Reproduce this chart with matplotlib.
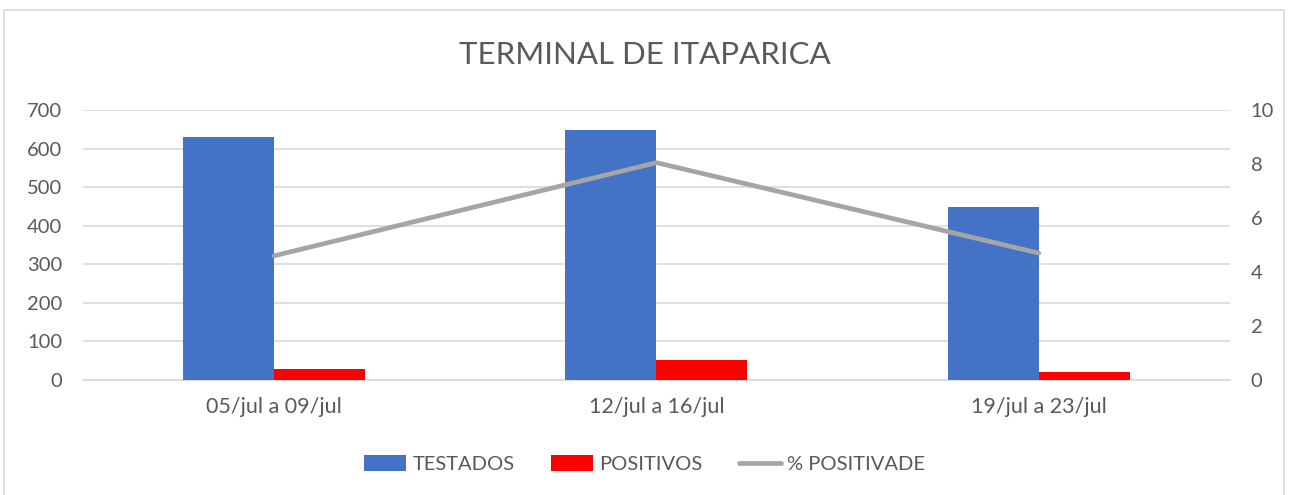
import numpy as np
import matplotlib.pyplot as plt
from matplotlib.patches import Rectangle

# data
semanas = ["05/jul a 09/jul", "12/jul a 16/jul", "19/jul a 23/jul"]
testados = [630, 648, 448]
positivos = [29, 52, 21]
positividade = [4.6, 8.05, 4.7]

cor_texto = "#595959"
cor_grade = "#d9d9d9"

plt.rcParams['font.family'] = ['Lato', 'DejaVu Sans']

fig = plt.figure(figsize=(12.89, 4.95), dpi=100)
ax = fig.add_axes([0.0644, 0.2323, 0.8898, 0.5455])
ax2 = ax.twinx()

x = np.arange(len(semanas))
w = 0.238
ax.bar(x - w / 2, testados, w, color="#4472c4", label="TESTADOS", zorder=3)
ax.bar(x + w / 2, positivos, w, color="#ff0000", label="POSITIVOS", zorder=3)
ax2.plot(x, positividade, color="#a5a5a5", lw=3.4, solid_capstyle="round",
         label="% POSITIVADE", zorder=4)

ax.set_xlim(-0.5, 2.5)
ax.set_ylim(0, 700)
ax.set_yticks(range(0, 701, 100))
ax2.set_ylim(0, 10)
ax2.set_yticks(range(0, 11, 2))
ax.set_xticks(x)
ax.set_xticklabels(semanas)

ax.grid(axis="y", color=cor_grade, lw=1.2, zorder=0)
for a in (ax, ax2):
    for s in a.spines.values():
        s.set_visible(False)
ax.spines["bottom"].set_visible(True)
ax.spines["bottom"].set_color(cor_grade)
ax.spines["bottom"].set_linewidth(1.2)

ax.tick_params(axis="y", length=0, pad=15, labelsize=14.5, labelcolor=cor_texto)
ax.tick_params(axis="x", length=0, pad=12, labelsize=15.5, labelcolor=cor_texto)
ax2.tick_params(axis="y", length=0, pad=15, labelsize=14.5, labelcolor=cor_texto)

fig.text(0.5, 0.889, "TERMINAL DE ITAPARICA", ha="center", va="center",
         fontsize=22.5, color=cor_texto)

h1, l1 = ax.get_legend_handles_labels()
h2, l2 = ax2.get_legend_handles_labels()
fig.legend(h1 + h2, l1 + l2, loc="center", bbox_to_anchor=(0.5, 0.062), ncol=3,
           frameon=False, fontsize=14.5, labelcolor=cor_texto, handlelength=2.1,
           handleheight=0.8, handletextpad=0.3, columnspacing=1.8)

# chart border
fig.patches.append(Rectangle((0.003, -0.01), 0.993, 0.99, transform=fig.transFigure,
                             fill=False, edgecolor="#d9d9d9", lw=1.2))

fig.savefig("out.png", dpi=100)
